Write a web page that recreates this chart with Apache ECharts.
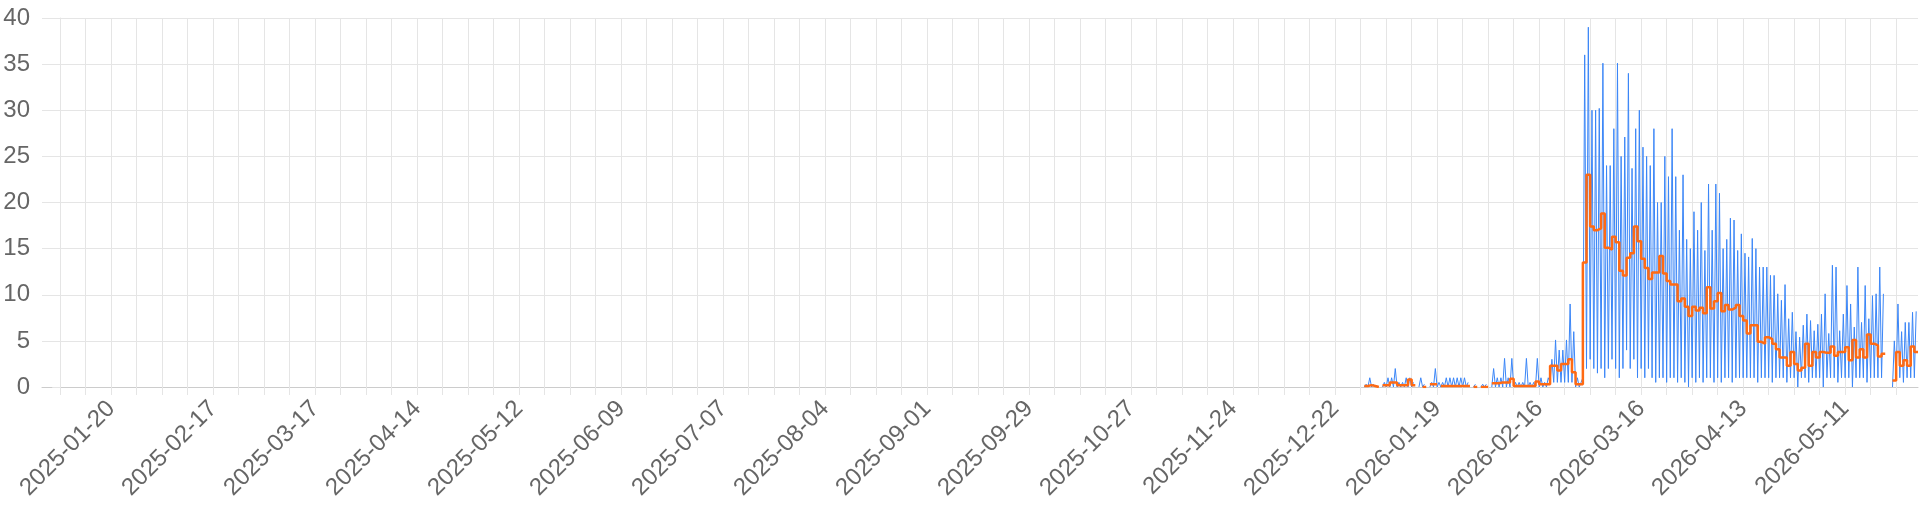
<!DOCTYPE html>
<html><head><meta charset="utf-8">
<script src="https://cdn.jsdelivr.net/npm/echarts@6/dist/echarts.min.js"></script>
<style>html,body{margin:0;padding:0;background:#fff}#c{width:1920px;height:512px}</style>
</head><body><div id="c"></div>
<script>
// ---- axis definition ----
const axisStart = '2025-01-01';
const axisEnd = '2026-05-31';
const weekAnchor = '2025-01-06';
const xTickLabels = ['2025-01-20','2025-02-17','2025-03-17','2025-04-14','2025-05-12','2025-06-09',
  '2025-07-07','2025-08-04','2025-09-01','2025-09-29','2025-10-27','2025-11-24','2025-12-22',
  '2026-01-19','2026-02-16','2026-03-16','2026-04-13','2026-05-11'];
const yMin = 0, yMax = 40, yStep = 5;

// ---- data: one value per day starting at dataStart ----
const dataStart = '2025-12-30';
// daily average (orange step line)
const dailyMean = [
  0.1,0.2,0.1,0.0,null,0.2,0.2,0.5,0.5,0.2,0.2,0.2,0.8,0.2,null,null,0.0,null,0.3,0.3,
  null,0.1,0.1,0.1,0.1,0.1,0.1,0.1,0.1,null,0.0,null,0.0,0.0,null,0.4,0.4,0.5,0.5,0.5,
  0.9,0.1,0.1,0.1,0.1,0.1,0.1,0.6,0.3,0.3,0.3,2.3,2.3,1.8,2.5,2.5,3.0,1.6,0.3,0.3,
  13.5,23,17.4,17.0,17.2,18.8,15.1,14.9,16.3,15.7,12.6,12.1,14.0,14.5,17.4,15.8,13.9,12.9,11.7,12.4,
  12.4,14.2,12.3,11.5,11.1,11.1,9.3,9.6,8.7,7.7,8.7,8.3,8.6,8.0,10.8,8.5,9.3,10.2,8.2,8.9,
  8.4,8.6,8.9,7.7,7.2,5.8,6.7,6.7,4.9,4.7,5.4,5.2,4.7,4.1,3.2,3.2,2.3,3.8,2.5,1.8,
  2.1,4.7,2.3,3.8,3.2,3.8,3.7,3.7,4.4,3.4,3.8,3.8,4.3,2.9,5.1,3.2,4.1,3.2,5.7,4.7,
  4.5,3.3,3.6,null,null,0.7,3.8,2.3,2.9,2.3,4.4,3.8
];
// daily peak of the raw readings (blue line)
const dailyPeak = [
  0.3,1,0.3,0.2,null,0.5,1,1,2,0.5,0.5,1,1,0.5,null,1,0.3,null,0.5,2,
  0.5,0.5,1,1,1,1,1,1,0.5,null,0.3,null,0.3,0.3,null,2,1,1,3.1,1,
  3.1,0.5,0.5,0.5,3.1,0.5,0.5,3.1,1,0.5,1,3,5.1,4,4,5.1,9,6,1,0.5,
  36,39,30,30,30.2,35.1,24,24,28,35.1,25,27.1,34,23.7,28,30,26,25,24,28,
  20,20,25,22.8,28,22.8,17,23,16,15,19,17,20,14.8,22,17,22,21,15,16,
  18.3,18.1,14.8,16.6,14.5,14.1,16.1,15,13,13,13,12.1,12.1,10.1,9.4,11.1,7.4,8.1,6,5.4,
  6.7,7.9,7.2,6.1,6.8,7.9,10.1,5.8,13.2,13,6.1,7.9,11,9,6.5,13,7,11,7.4,9.9,
  10.1,13,10.1,null,null,5,9,6,7,7,8.1,8.2
];
// daily low of the raw readings (blue line)
const dailyLow = [
  0,0,0,0,null,0,0,0,0,0,0,0,0,0,null,0,0,null,0,0,
  0,0,0,0,0,0,0,0,0,null,0,null,0,0,null,0,0,0,0,0,
  0,0,0,0,0,0,0,0,0,0,0,0.5,0.5,0.5,0.5,0.5,0.5,0.5,0,0,
  1,2,3,2,1.5,2,1,2,3,2,1,2,4,2,3,1,2,1,2,1,
  0.5,1,1,0.5,1,1,0.5,1,0.5,0,1,0.5,1,0.5,1,1,0.5,1,0.5,1,
  1,0.5,1,1,1,1,1,1,0.5,1,1,1,0.5,1,1,1,0.5,1,1,0,
  1,1,0.5,1,1,1,0,1,1,1,0.5,1,1,1,0,1,1,1,0.5,1,
  1,1,1,null,null,0,1,1,0.5,1,1,1
];

// ---- helpers ----
const DAY = 86400000;
const t0 = Date.parse(weekAnchor + 'T00:00:00Z');
const dayNum = s => Math.round((Date.parse(s + 'T00:00:00Z') - t0) / DAY);
const dayStr = d => new Date(t0 + d * DAY).toISOString().slice(0, 10);
const xMin = dayNum(axisStart), xMax = dayNum(axisEnd);
const d0 = dayNum(dataStart);
const weekTicks = [];
for (let d = 0; d <= xMax; d += 7) weekTicks.push(d);
const labelDays = xTickLabels.map(dayNum);

const meanLine = [];
dailyMean.forEach((v, i) => {
  const d = d0 + i;
  if (v === null) { meanLine.push([d, null]); return; }
  meanLine.push([d, v]); meanLine.push([d + 1, v]);
});
const rawLine = [];
dailyPeak.forEach((v, i) => {
  const d = d0 + i;
  if (v === null) { rawLine.push([d, null]); return; }
  rawLine.push([d, dailyLow[i]]); rawLine.push([d + 0.5, v]);
});

const font = 'Liberation Sans, Arial, Helvetica, sans-serif';
const gridColor = '#e5e5e5';
const chart = echarts.init(document.getElementById('c'), null, {renderer: 'canvas'});
chart.setOption({
  animation: false,
  grid: {left: 42, right: 2, top: 18, bottom: 125, containLabel: false},
  xAxis: {
    type: 'value', min: xMin, max: xMax,
    axisLine: {show: true, lineStyle: {color: '#cccccc', width: 1}},
    axisTick: {show: true, length: 8, customValues: weekTicks, lineStyle: {color: gridColor}},
    splitLine: {show: true, lineStyle: {color: gridColor, width: 1}},
    axisLabel: {
      customValues: labelDays, rotate: 45, margin: 18,
      fontFamily: font, fontSize: 24, color: '#666',
      formatter: v => dayStr(Math.round(v))
    }
  },
  yAxis: {
    type: 'value', min: yMin, max: yMax, interval: yStep,
    axisLine: {show: true, lineStyle: {color: gridColor}},
    axisTick: {show: true, length: 8, lineStyle: {color: gridColor}},
    splitLine: {show: true, lineStyle: {color: gridColor, width: 1}},
    axisLabel: {margin: 12, fontFamily: font, fontSize: 24, color: '#666'}
  },
  series: [
    {type: 'line', data: rawLine, showSymbol: false, connectNulls: false, z: 2,
     lineStyle: {color: '#3b86f7', width: 1}, emphasis: {disabled: true}},
    {type: 'line', data: meanLine, showSymbol: false, connectNulls: false, z: 3,
     lineStyle: {color: '#ff6a13', width: 2.5}, emphasis: {disabled: true}}
  ]
});
</script></body></html>
